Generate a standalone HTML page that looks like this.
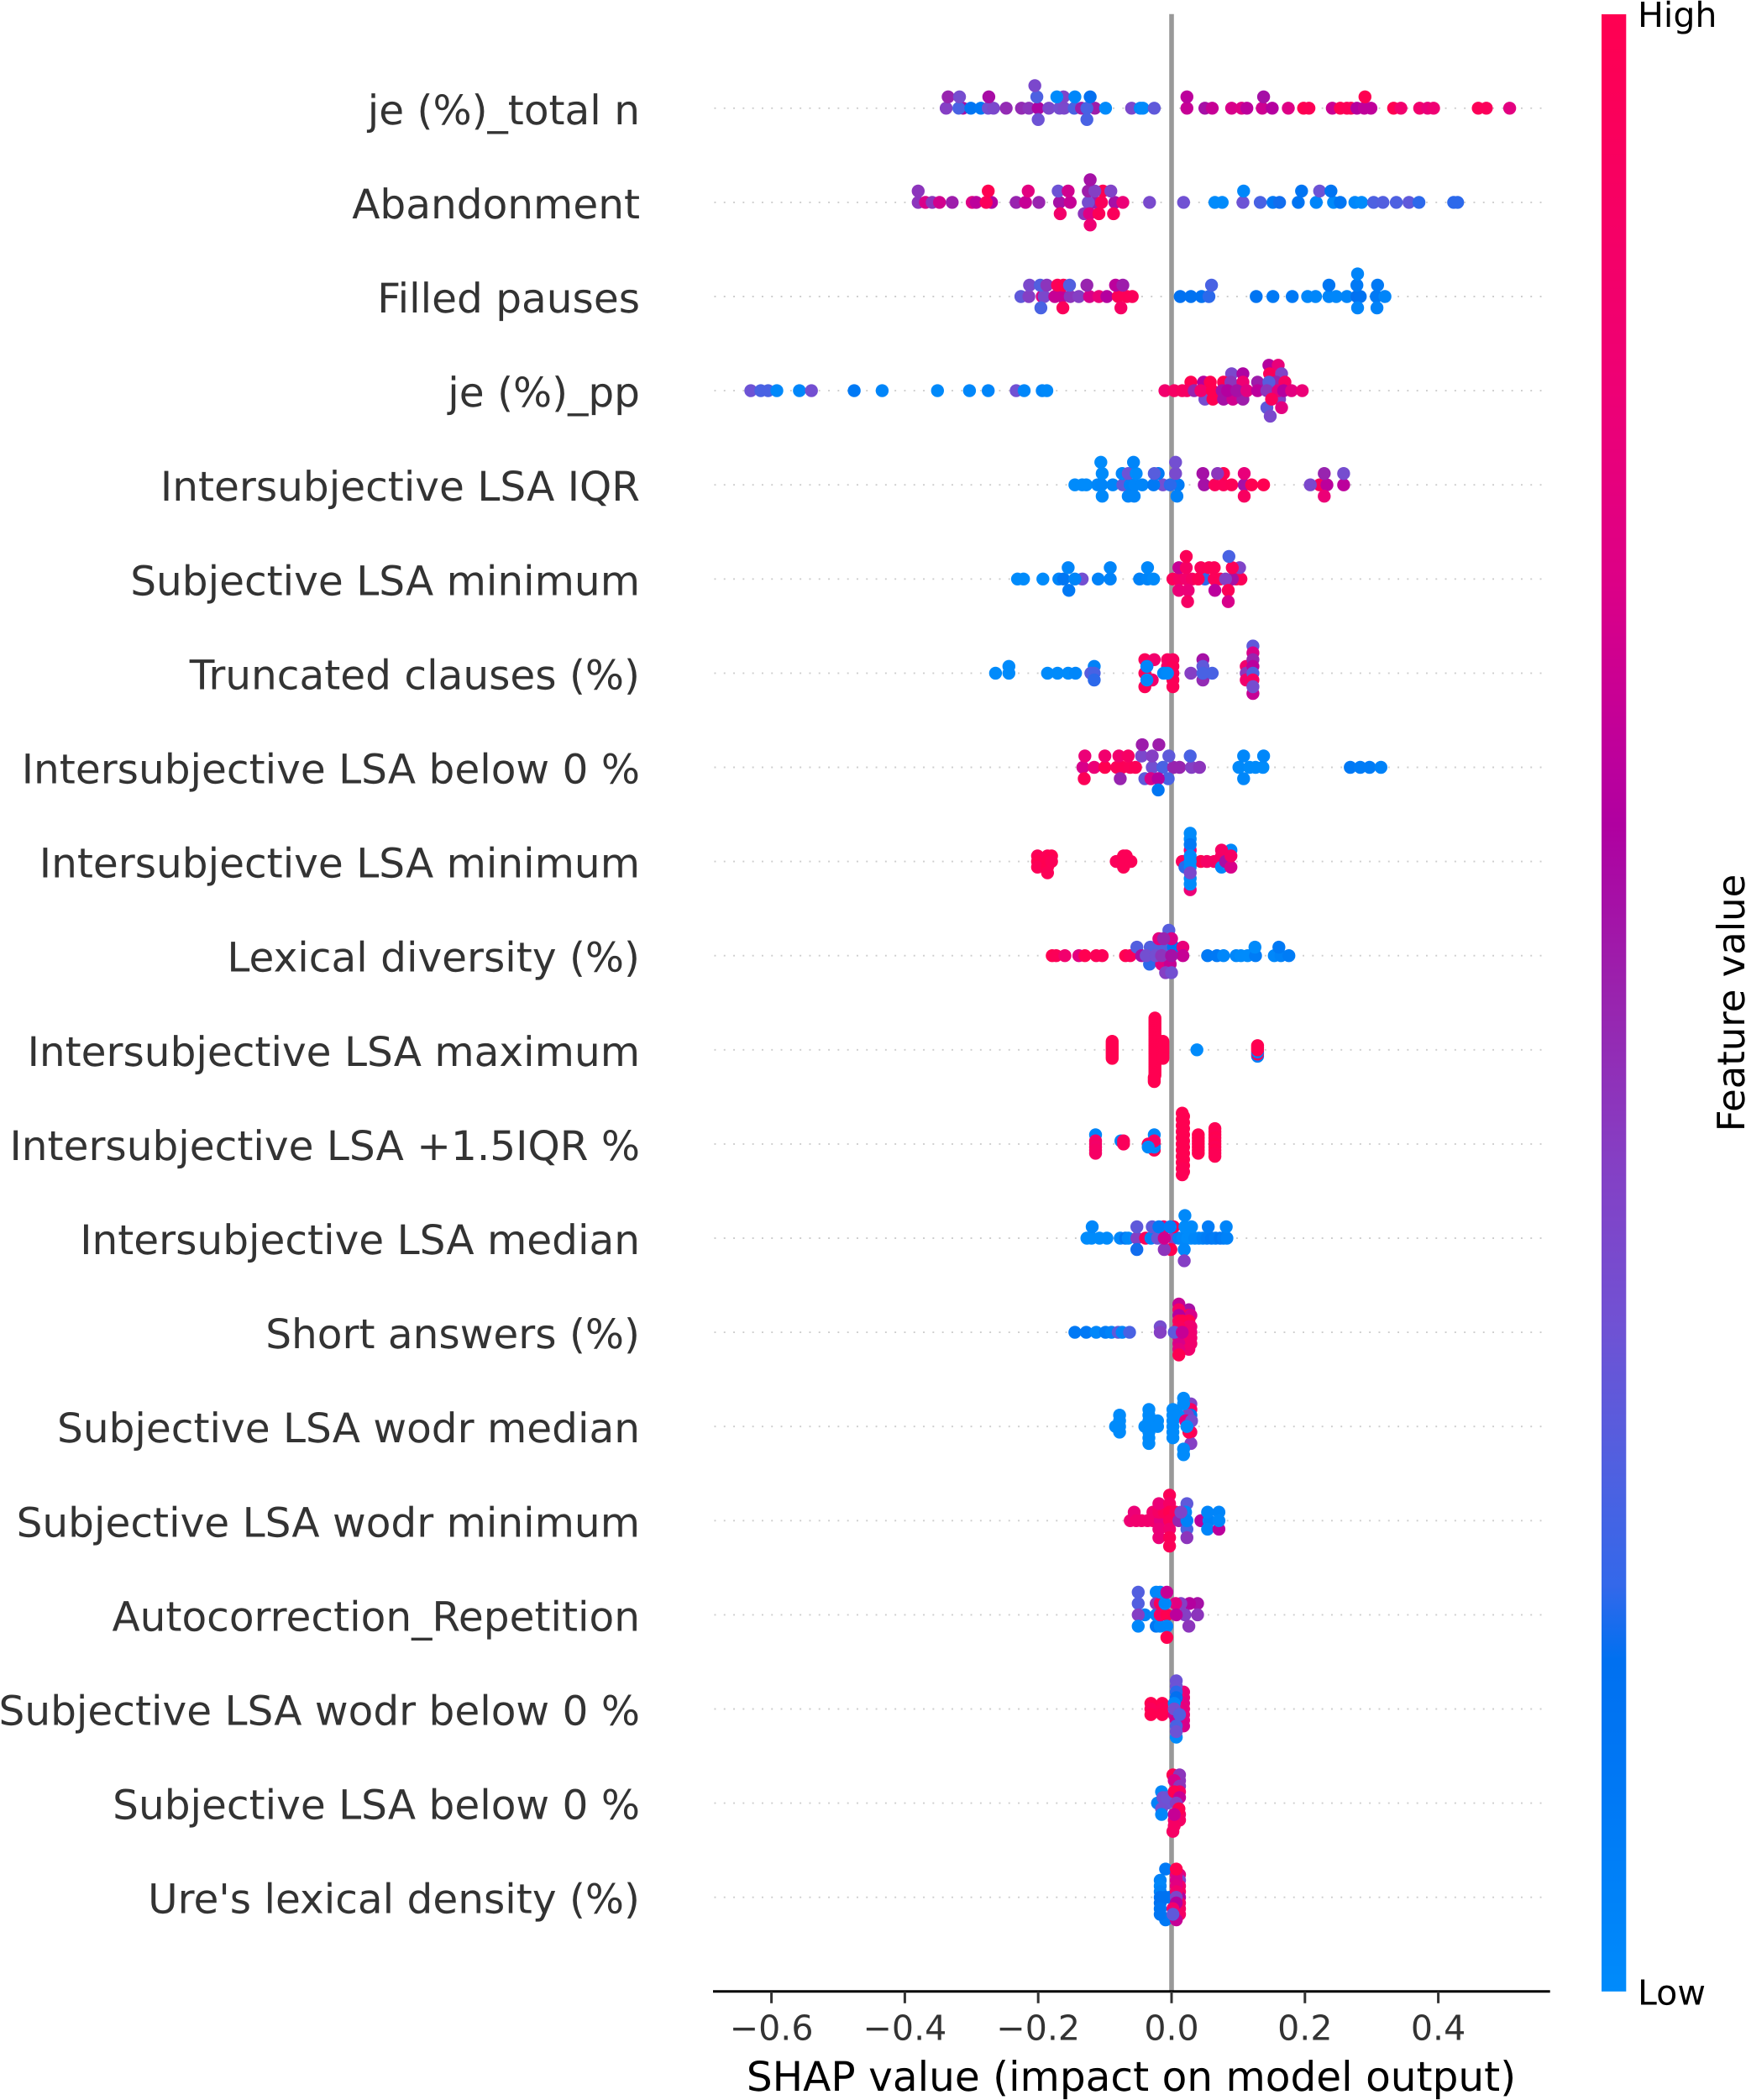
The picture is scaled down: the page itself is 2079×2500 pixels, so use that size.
<!DOCTYPE html>
<html lang="en">
<head>
<meta charset="utf-8">
<title>SHAP summary plot</title>
<style>
  html, body { margin: 0; padding: 0; background: #ffffff; }
  svg { display: block; }
  text { font-family: "DejaVu Sans", "Liberation Sans", sans-serif; text-rendering: geometricPrecision; }
</style>
</head>
<body>
<svg id="chart" xmlns="http://www.w3.org/2000/svg" width="2079" height="2500" viewBox="0 0 2079 2500">
  <defs>
    <linearGradient id="colorbar-gradient" x1="0" y1="1" x2="0" y2="0"></linearGradient>
  </defs>
  <rect x="0" y="0" width="2079" height="2500" fill="#ffffff"></rect>
  <g id="row-guides"></g>
  <line id="zero-line" stroke="#999999" stroke-width="5.6"></line>
  <g id="feature-labels"></g>
  <g id="points"></g>
  <line id="x-axis-line" stroke="#000000" stroke-width="3"></line>
  <g id="x-ticks"></g>
  <text x="1347" y="2489" font-size="48.55" fill="#000000" text-anchor="middle">SHAP value (impact on model output)</text>
  <rect x="1907" y="17" width="29.3" height="2353.8" fill="url(#colorbar-gradient)"></rect>
  <text x="1950" y="32" font-size="41.1" fill="#000000">High</text>
  <text x="1950" y="2386.5" font-size="41.1" fill="#000000">Low</text>
  <text x="0" y="0" font-size="44.9" fill="#000000" text-anchor="middle" transform="translate(2077 1194) rotate(-90)">Feature value</text>
</svg>
<script>
// Feature names, top row first
const featureNames = ["je (%)_total n","Abandonment","Filled pauses","je (%)_pp","Intersubjective LSA IQR","Subjective LSA minimum","Truncated clauses (%)","Intersubjective LSA below 0 %","Intersubjective LSA minimum","Lexical diversity (%)","Intersubjective LSA maximum","Intersubjective LSA +1.5IQR %","Intersubjective LSA median","Short answers (%)","Subjective LSA wodr median","Subjective LSA wodr minimum","Autocorrection_Repetition","Subjective LSA wodr below 0 %","Subjective LSA below 0 %","Ure's lexical density (%)"];
const xTickValues = [-0.6,-0.4,-0.2,0,0.2,0.4];
const xTickLabels = ["\u22120.6","\u22120.4","\u22120.2","0.0","0.2","0.4"];
// colormap: feature value, colour
const colorStops = [[0,"#008bfb"],[0.096,"#0079f5"],[0.168,"#0070f0"],[0.205,"#3368ea"],[0.265,"#5060e0"],[0.34,"#7151d3"],[0.42,"#853fc4"],[0.507,"#9a22ad"],[0.59,"#b000a0"],[0.617,"#bb009d"],[0.715,"#dd0086"],[0.81,"#ee0075"],[1,"#ff0051"]];

// Each point: [SHAP value, beeswarm layer, normalised feature value]
const jeTotalN = [[-.338,0,.42],[-.313,0,.55],[-.319,0,.25],[-.301,0,.12],[-.286,0,.1],[-.275,0,.35],[-.267,0,.38],[-.248,0,.48],[-.225,0,.48],[-.214,0,.45],[-.2,0,.58],[-.184,0,.38],[-.168,0,.36],[-.161,0,.38],[-.146,0,.25],[-.135,0,.52],[-.115,0,.52],[-.127,0,.25],[-.099,0,0],[-.06,0,.38],[-.047,0,.02],[-.043,0,0],[-.026,0,.3],[.023,0,.65],[.05,0,.55],[.061,0,.65],[.09,0,.7],[.105,0,.72],[.113,0,.62],[.136,0,.67],[.151,0,.6],[.175,0,.72],[.198,0,1],[.206,0,.98],[.241,0,.66],[.253,0,1],[.263,0,.97],[.269,0,.97],[.278,0,.6],[.289,0,.63],[.299,0,.63],[.333,0,1],[.344,0,.85],[.372,0,.85],[.384,0,.78],[.393,0,.82],[.46,0,.97],[.472,0,.95],[.507,0,.75],[-.335,1,.5],[-.318,1,.36],[-.274,1,.56],[-.202,1,.26],[-.162,1,.4],[-.172,1,0],[-.145,1,.02],[-.122,1,.17],[.023,1,.62],[.138,1,.55],[.29,1,1],[-.205,2,.38],[-.2,-1,.33],[-.127,-1,.25]];
const abandonment = [[-.38,0,.45],[-.369,0,.7],[-.359,0,.45],[-.348,0,.68],[-.329,0,.52],[-.299,0,.72],[-.293,0,.62],[-.27,0,.6],[-.278,0,.95],[-.233,0,.5],[-.219,0,.65],[-.199,0,.5],[-.168,0,.55],[-.152,0,.65],[-.115,0,.52],[-.105,0,.95],[-.125,0,.36],[-.085,0,.55],[-.073,0,.8],[-.033,0,.37],[.018,0,.34],[.065,0,0],[.076,0,0],[.107,0,.33],[.133,0,.25],[.152,0,.1],[.162,0,.18],[.19,0,.14],[.217,0,.03],[.243,0,.01],[.253,0,.12],[.275,0,.02],[.285,0,0],[.303,0,.26],[.317,0,.27],[.337,0,.26],[.356,0,.3],[.371,0,.2],[.423,0,.2],[.429,0,.2],[-.38,1,.45],[-.275,1,1],[-.215,1,.75],[-.17,1,.33],[-.155,1,.68],[-.103,1,1],[-.125,1,.52],[-.115,1,.42],[-.091,1,.4],[.108,1,.02],[.195,1,.14],[.222,1,.33],[.239,1,.14],[-.167,-1,.87],[-.131,-1,.45],[-.123,-1,.72],[-.109,-1,.97],[-.087,-1,.95],[-.122,2,.55],[-.122,-2,.82]];
const filledPauses = [[-.226,0,.3],[-.214,0,.42],[-.194,0,.72],[-.191,0,.38],[-.175,0,.65],[-.164,0,.65],[-.152,0,.45],[-.139,0,.42],[-.123,0,.7],[-.109,0,.8],[-.097,0,.6],[-.08,0,.97],[-.067,0,.97],[-.059,0,.95],[.013,0,.16],[.029,0,.15],[.045,0,.15],[.056,0,.2],[.127,0,.14],[.152,0,.1],[.181,0,.1],[.204,0,.02],[.216,0,.02],[.236,0,.03],[.247,0,.02],[.263,0,.03],[.278,0,.17],[.283,0,.15],[.307,0,.1],[.32,0,.03],[-.213,1,.38],[-.197,1,.27],[-.187,1,.45],[-.171,1,.97],[-.162,1,1],[-.153,1,.27],[-.127,1,.5],[-.084,1,.62],[-.073,1,.52],[.06,1,.25],[.236,1,.12],[.278,1,.1],[.309,1,.1],[-.196,-1,.25],[-.163,-1,.95],[-.076,-1,.9],[.279,-1,.03],[.308,-1,.05],[.279,2,.03]];
const jePp = [[-.631,0,.33],[-.616,0,.25],[-.605,0,.25],[-.592,0,.01],[-.558,0,.02],[-.54,0,.35],[-.476,0,.1],[-.434,0,.03],[-.351,0,.01],[-.303,0,.02],[-.275,0,.03],[-.233,0,.34],[-.221,0,.02],[-.194,0,.03],[-.187,0,.01],[.05,-1,.36],[.062,-1,1],[.078,-1,.55],[.092,-1,.68],[.107,-1,.52],[.162,-1,.42],[.143,-2,.3],[.165,-2,.75],[.148,-3,.38],[.146,3,.6],[.16,3,.78],[.09,2,.38],[.107,2,.58],[.147,2,.95],[.165,2,.4],[.029,1,1],[.048,1,.6],[.058,1,1],[.078,1,1],[.089,1,.45],[.107,1,.82],[.129,1,.52],[.157,1,.5],[.17,1,.9],[.146,1,.28],[-.01,0,.85],[.004,0,.9],[.016,0,.92],[.023,0,.9],[.034,0,.5],[.044,0,.85],[.061,0,1],[.076,0,.55],[.084,0,.6],[.098,0,.55],[.113,0,.75],[.129,0,.62],[.143,0,.45],[.16,0,.75],[.168,0,.6],[.18,0,.75],[.196,0,.8],[.15,-1,.95]];
const interLsaIqr = [[-.145,0,0],[-.134,0,0],[-.128,0,0],[-.111,0,.02],[-.105,0,.03],[-.088,0,.03],[-.073,0,.3],[-.062,0,.05],[-.055,0,.03],[-.044,0,.03],[-.013,0,.35],[-.027,0,.1],[.01,0,.08],[-.002,0,.2],[.049,0,.55],[.065,0,.95],[.078,0,.95],[.09,0,.97],[.109,0,.55],[.12,0,1],[.138,0,1],[.222,0,.95],[.233,0,.62],[.208,0,.38],[.258,0,.62],[-.104,1,0],[-.074,1,.02],[-.065,1,.33],[-.053,1,0],[-.02,1,.1],[-.026,1,.28],[.006,1,.37],[.047,1,.55],[.078,1,1],[.069,1,.45],[.109,1,.78],[.229,1,.5],[.258,1,.36],[-.106,2,0],[-.057,2,.03],[.006,2,.35],[-.104,-1,.01],[-.065,-1,.03],[-.056,-1,.03],[.008,-1,.05],[.109,-1,.92],[.229,-1,.8]];
const subjLsaMinimum = [[-.231,0,0],[-.222,0,0],[-.193,0,0],[-.134,0,.35],[-.169,0,.03],[-.162,0,.12],[-.145,0,.03],[-.11,0,.05],[-.092,0,.05],[-.048,0,.05],[-.036,0,.03],[-.027,0,.01],[.002,0,.95],[.012,0,.9],[.022,0,.85],[.031,0,.9],[.05,0,.2],[.04,0,.97],[.064,0,.95],[.073,0,.97],[.097,0,.97],[.104,0,.97],[.091,0,.55],[.081,0,.42],[-.155,1,.03],[-.092,1,.03],[-.036,1,.02],[.011,1,.65],[.022,1,.9],[.044,1,.95],[.056,1,.97],[.064,1,.97],[.102,1,.4],[.091,1,.97],[-.154,-1,.1],[.011,-1,.8],[.025,-1,.8],[.065,-1,.62],[.085,-1,.97],[.022,2,.97],[.086,2,.25],[.024,-2,.9],[.085,-2,.7]];
const truncatedClauses = [[-.264,0,0],[-.244,0,0],[-.244,1,0],[-.186,0,0],[-.171,0,0],[-.155,0,0],[-.144,0,.02],[-.116,1,.05],[-.121,0,.28],[-.116,0,.25],[-.116,-1,.2],[-.04,2,.95],[-.026,2,.85],[-.037,1,.97],[-.04,0,.97],[-.029,-1,.85],[-.04,-2,.97],[-.037,-1,.02],[-.037,1,.03],[-.006,2,.92],[.002,2,.92],[-.006,1,.9],[.002,1,.97],[.002,0,.95],[.002,-1,.97],[.002,-2,.97],[-.012,0,.03],[-.006,0,.01],[.029,0,.42],[.047,2,.55],[.047,1,.3],[.047,-1,.48],[.047,0,.25],[.061,0,.25],[.112,1,.85],[.112,0,.45],[.112,-1,.85],[.122,4,.3],[.122,3,.7],[.122,2,.5],[.122,1,.62],[.122,0,.27],[.122,-1,.9],[.122,-3,.65],[.122,-2,.36]];
const interLsaBelow0 = [[-.133,0,.7],[-.116,0,.8],[-.1,0,1],[-.082,0,.95],[-.074,0,.97],[-.062,0,.95],[-.054,0,.97],[-.029,0,.35],[-.013,0,.25],[.003,0,.5],[.012,0,.5],[.03,0,.42],[.042,0,.45],[.101,0,.01],[.117,0,0],[.126,0,0],[.137,0,0],[.268,0,.1],[.283,0,.08],[.297,0,.08],[.314,0,.05],[-.13,1,.8],[-.1,1,.85],[-.079,1,.85],[-.065,1,.9],[-.045,1,.38],[-.029,1,.42],[-.004,1,.3],[.028,1,.25],[.108,1,.02],[.138,1,.02],[-.044,2,.52],[-.019,2,.52],[-.131,-1,.97],[-.077,-1,.5],[-.04,-1,.3],[-.005,-1,.25],[-.031,-1,.7],[-.02,-1,.6],[.108,-1,.02],[-.02,-2,.12]];
const interLsaMinimum = [[-.201,1,.97],[-.201,0,1],[-.201,-1,.97],[-.186,1,.97],[-.186,0,1],[-.186,-1,1],[-.186,-2,.97],[-.18,1,1],[-.18,0,.97],[-.083,0,.95],[-.072,1,.97],[-.072,0,.97],[-.072,-1,.97],[-.068,1,.97],[-.061,0,.97],[.016,0,.95],[.028,2,.8],[.02,-1,.2],[.044,0,1],[.053,0,.9],[.064,0,.9],[.075,0,.9],[.089,2,.02],[.075,1,.9],[.075,2,.9],[.081,1,.9],[.075,-1,.02],[.081,0,.55],[.089,-1,.7],[.089,1,.9],[.028,-5,.8],[.028,5,0],[.028,4,0],[.028,3,.1],[.028,1,.01],[.028,0,0],[.028,-1,0],[.028,-3,0],[.028,-4,0],[.028,-2,.38]];
const lexicalDiversity = [[-.179,0,1],[-.173,0,.97],[-.16,0,.85],[-.139,0,.75],[-.13,0,1],[-.113,0,.97],[-.104,0,.97],[-.069,0,1],[-.062,0,.95],[.054,0,.1],[.068,0,.1],[.078,0,.02],[.097,0,.02],[.104,0,0],[.114,0,0],[.126,0,.08],[.154,0,.02],[.164,0,.05],[.176,0,.08],[.125,1,0],[.161,1,.1],[-.052,1,.27],[-.032,1,.27],[-.014,1,.27],[.003,1,.15],[-.004,3,.28],[-.019,2,.75],[0,2,.7],[-.012,2,.5],[.017,1,.78],[-.033,-1,.2],[-.015,-1,.75],[-.002,-1,.65],[-.009,-2,.42],[0,-2,.35],[-.045,0,.55],[-.038,0,.35],[-.024,0,.35],[-.015,0,.45],[.017,0,.65],[0,0,.55]];
const interLsaMaximum = [[-.025,15,1],[-.025,14,1],[-.025,13,1],[-.025,12,1],[-.025,11,1],[-.025,10,1],[-.025,9,1],[-.025,8,1],[-.025,7,1],[-.025,6,1],[-.025,5,1],[-.025,4,1],[-.025,3,1],[-.025,2,1],[-.025,1,1],[-.025,0,1],[-.025,-1,1],[-.025,-2,1],[-.025,-3,1],[-.025,-4,1],[-.025,-5,1],[-.025,-6,1],[-.025,-7,1],[-.025,-8,1],[-.025,-9,1],[-.025,-10,1],[-.025,-11,1],[-.025,-12,1],[-.026,-13,1],[-.026,-14,1],[-.026,-15,1],[-.089,4,1],[-.089,3,1],[-.089,2,1],[-.089,1,1],[-.089,0,1],[-.089,-1,1],[-.089,-2,1],[-.089,-3,1],[-.089,-4,1],[-.013,4,1],[-.013,3,1],[-.013,2,1],[-.013,1,1],[-.013,0,1],[-.013,-1,1],[-.013,-2,1],[-.013,-3,1],[-.013,-4,1],[.038,0,0],[.129,-3,.05],[.129,-2,.95],[.129,-1,.05],[.129,0,1],[.129,1,1],[.129,2,1]];
const interLsaPlusIqr = [[.016,10,1],[.018,9,1],[.016,8,1],[.018,7,1],[.016,6,1],[.018,5,1],[.016,4,1],[.018,3,1],[.016,2,1],[.018,1,1],[.016,0,1],[.018,-1,1],[.016,-2,1],[.018,-3,1],[.016,-4,1],[.018,-5,1],[.016,-6,1],[.018,-7,1],[.016,-8,.98],[.018,-9,.98],[.016,-10,.98],[.04,3,1],[.04,2,1],[.04,1,1],[.04,0,1],[.04,-1,1],[.04,-2,1],[.04,-3,1],[.065,5,.98],[.065,4,1],[.065,3,.98],[.065,2,1],[.065,1,.98],[.065,0,1],[.065,-1,.98],[.065,-2,1],[.065,-3,.98],[.065,-4,.98],[-.114,3,.03],[-.114,1,.88],[-.114,0,.9],[-.114,-1,.88],[-.114,-2,.9],[-.114,-3,.9],[-.076,1,.03],[-.072,1,.93],[-.072,0,.95],[-.026,3,.03],[-.026,-2,1],[-.035,0,.97],[-.026,0,1],[-.026,-1,.02],[-.026,1,.9],[-.035,-1,.01]];
const interLsaMedian = [[-.127,0,0],[-.12,0,0],[-.108,0,0],[-.097,0,0],[-.077,0,.02],[-.069,0,.12],[-.065,0,.01],[-.052,0,.42],[-.039,0,.95],[-.031,0,.05],[-.021,0,.33],[.003,0,.42],[.011,0,.05],[.017,0,.02],[.024,0,0],[.029,0,0],[.035,0,.02],[.041,0,.02],[.047,0,.05],[.053,0,.08],[.06,0,.1],[.066,0,.08],[.073,0,.12],[.078,0,.08],[.083,0,.05],[-.119,1,.02],[-.052,1,.3],[-.029,1,.3],[.003,1,.98],[-.012,1,.9],[-.019,1,.1],[-.002,1,.08],[.02,1,0],[.03,1,0],[.055,1,.08],[.082,1,.03],[.02,2,.01],[-.052,-1,.18],[-.001,-1,1],[-.011,-1,.45],[.019,-1,.02],[.019,-2,.42],[-.011,0,.68]];
const shortAnswers = [[-.145,0,.1],[-.128,0,.1],[-.113,0,.02],[-.099,0,.08],[-.09,0,.05],[-.08,0,.3],[-.074,0,.03],[-.063,0,.25],[-.017,1,.36],[-.017,0,.42],[.011,5,.65],[.026,4,.55],[.011,4,.9],[.026,3,1],[.029,3,.7],[.011,3,.6],[.026,2,1],[.011,2,.95],[.016,2,1],[.029,1,.8],[.026,1,.85],[.011,1,.95],[.029,0,.8],[.026,0,.85],[.029,-1,.85],[.026,-1,.85],[.011,-1,.8],[.029,-2,.85],[.026,-2,.85],[.011,-2,.7],[.026,-3,.85],[.011,-3,.75],[.004,0,.3],[.016,0,.65],[.011,-4,1]];
const subjLsaWodrMedian = [[-.084,0,0],[-.078,2,0],[-.078,1,0],[-.078,0,0],[-.078,-1,0],[-.04,0,0],[-.034,3,0],[-.034,2,0],[-.034,1,0],[-.034,0,0],[-.034,-1,0],[-.034,-2,0],[-.034,-3,0],[-.021,1,0],[-.021,0,0],[.029,4,.4],[.029,3,.9],[.029,2,.12],[.029,-1,.9],[.029,-3,.42],[.029,1,.36],[.024,2,.4],[.002,3,0],[.002,2,0],[.002,1,0],[.002,0,0],[.002,-1,0],[.002,-2,0],[.01,2,0],[.018,5,0],[.018,4,0],[.018,-4,0],[.018,-5,0],[.021,1,.75],[.03,1,.36],[.026,-1,1],[.023,0,0]];
const subjLsaWodrMinimum = [[-.062,0,.82],[-.056,1,.8],[-.053,0,.85],[-.045,0,.85],[-.036,0,.85],[-.028,0,.85],[-.017,0,.75],[-.028,1,.85],[-.019,1,.9],[-.011,1,.95],[.006,1,.97],[-.019,2,.8],[-.019,-1,.8],[-.019,-2,.8],[-.003,3,.97],[-.003,2,.9],[-.003,1,1],[-.003,0,.95],[-.003,-1,.85],[-.003,-2,.97],[-.003,-3,.97],[.006,1,.95],[.011,0,.5],[.023,2,.3],[.023,-1,.25],[.023,-2,.45],[.021,1,.02],[.023,0,.05],[.014,1,.4],[.044,0,.62],[.056,0,.05],[.054,1,.03],[.054,-1,.03],[.071,-1,.62],[.071,1,.03],[.071,0,.02]];
const autocorrection = [[-.05,2,.27],[-.05,1,.27],[-.04,0,.05],[-.05,0,.42],[-.05,-1,.02],[-.023,2,.02],[-.023,-1,.12],[-.023,0,.02],[-.017,-1,.03],[-.023,1,.45],[-.017,1,.95],[.039,1,.55],[.027,1,.6],[.039,0,.45],[.02,0,.42],[.014,1,.42],[.006,1,.75],[.026,-1,.45],[-.017,0,.9],[-.007,0,1],[.007,0,.62],[-.01,1,.02],[-.007,-1,.03],[-.017,2,.02],[-.007,2,.65],[-.007,-2,1]];
const subjLsaWodrBelow0 = [[-.031,1,1],[-.031,0,.95],[-.031,-1,1],[-.014,1,1],[-.014,0,.97],[-.014,-1,1],[.007,-5,0],[.018,3,.8],[.018,2,.8],[.018,1,.75],[.018,0,.8],[.018,-1,.8],[.018,-2,.75],[.018,-3,.7],[.007,5,.33],[.007,4,.33],[.007,3,.2],[.014,0,.75],[.007,2,.17],[.004,1,.02],[.004,-1,.7],[.007,-2,.65],[.007,-3,.25],[.004,0,.35],[.012,-1,.27],[.007,-4,.33]];
const subjLsaBelow0 = [[-.015,2,.02],[-.021,0,.05],[-.007,0,.33],[-.013,1,.35],[-.015,-1,.35],[-.007,1,.33],[-.015,-2,.02],[.002,5,1],[.012,5,.45],[.012,4,.45],[.004,4,.7],[.012,3,.45],[.012,2,.9],[.004,2,1],[.012,1,.65],[.011,-1,.9],[.012,-3,.9],[.012,-2,.9],[.004,-3,.85],[.002,-5,.9],[.004,-4,.9],[.007,0,.42],[.011,-1,1],[.004,-2,.65]];
const uresLexicalDensity = [[-.009,-4,.1],[-.009,5,.1],[-.017,3,.05],[-.017,2,.02],[-.017,1,.05],[-.017,0,.15],[-.017,-1,.15],[-.017,-2,.12],[-.017,-3,.12],[.012,4,.75],[.012,3,.4],[.012,2,.85],[.012,1,.9],[.012,0,.6],[.012,-1,.9],[.012,-2,.9],[.012,-3,.9],[-.003,0,.1],[-.009,0,.15],[.007,4,.75],[.007,3,.7],[.007,2,.75],[.007,1,.85],[.007,0,.4],[.007,-1,.6],[.002,-2,.85],[.007,-4,.65],[.007,5,1],[.002,-3,.3]];
const rowSeries = [jeTotalN, abandonment, filledPauses, jePp, interLsaIqr, subjLsaMinimum, truncatedClauses, interLsaBelow0, interLsaMinimum, lexicalDiversity, interLsaMaximum, interLsaPlusIqr, interLsaMedian, shortAnswers, subjLsaWodrMedian, subjLsaWodrMinimum, autocorrection, subjLsaWodrBelow0, subjLsaBelow0, uresLexicalDensity];

const NS = "http://www.w3.org/2000/svg";
const xZero = 1395, xPerUnit = 794;
const axisLeft = 849, axisRight = 1845.7, axisBottom = 2370.8, rowPitch = 112.1;
function xScale(v) { return xZero + xPerUnit * v; }
function yScale(pos) { return axisBottom - (pos + 1) * rowPitch; }
function hexToRgb(h) { return [parseInt(h.slice(1,3),16), parseInt(h.slice(3,5),16), parseInt(h.slice(5,7),16)]; }
function colorFor(t) {
  t = Math.max(0, Math.min(1, t));
  for (let i = 1; i < colorStops.length; i++) {
    if (t <= colorStops[i][0]) {
      const a = colorStops[i-1], b = colorStops[i];
      const f = (t - a[0]) / (b[0] - a[0]);
      const ca = hexToRgb(a[1]), cb = hexToRgb(b[1]);
      return "rgb(" + ca.map((c, k) => Math.round(c + (cb[k] - c) * f)).join(",") + ")";
    }
  }
  return colorStops[colorStops.length - 1][1];
}
function make(tag, attrs, parent) {
  const el = document.createElementNS(NS, tag);
  for (const k in attrs) el.setAttribute(k, attrs[k]);
  parent.appendChild(el);
  return el;
}

const zeroLine = document.getElementById("zero-line");
zeroLine.setAttribute("x1", xScale(0));
zeroLine.setAttribute("x2", xScale(0));
zeroLine.setAttribute("y1", yScale(featureNames.length));
zeroLine.setAttribute("y2", axisBottom);

const axisLine = document.getElementById("x-axis-line");
axisLine.setAttribute("x1", axisLeft);
axisLine.setAttribute("x2", axisRight);
axisLine.setAttribute("y1", axisBottom);
axisLine.setAttribute("y2", axisBottom);

const grad = document.getElementById("colorbar-gradient");
colorStops.forEach(function (s) {
  make("stop", { offset: s[0], "stop-color": s[1] }, grad);
});

const guides = document.getElementById("row-guides");
const labelsG = document.getElementById("feature-labels");
const pointsG = document.getElementById("points");
const nRows = featureNames.length;

featureNames.forEach(function (name, i) {
  const pos = nRows - 1 - i;
  const y = yScale(pos);
  const guide = make("line", { x1: 850.5, x2: 1838, y1: y, y2: y, stroke: "#cccccc", "stroke-width": 1.9, "stroke-dasharray": "1.9 9.4" }, guides);
  
  
  const label = make("text", { x: 762, y: y + 19, "font-size": 48.55, fill: "#333333", "text-anchor": "end" }, labelsG);
  label.textContent = name;
  
  

  const series = rowSeries[i];
  const maxLayer = series.reduce(function (m, p) { return Math.max(m, p[1]); }, 0);
  const layerUnit = 0.36 / (maxLayer + 1);
  const group = make("g", {}, pointsG);
  
  
  series.forEach(function (p) {
    const dot = make("circle", { cx: xScale(p[0]).toFixed(1), cy: yScale(pos + p[1] * layerUnit).toFixed(1), r: 7.7, fill: colorFor(p[2]) }, group);
    
    
  });
});

const ticksG = document.getElementById("x-ticks");
xTickValues.forEach(function (v, i) {
  const x = xScale(v);
  const tick = make("line", { x1: x, x2: x, y1: axisBottom, y2: axisBottom + 14, stroke: "#333333", "stroke-width": 3 }, ticksG);
  
  
  const label = make("text", { x: x, y: 2428.3, "font-size": 41.1, fill: "#333333", "text-anchor": "middle" }, ticksG);
  label.textContent = xTickLabels[i];
  
  
});
</script>
</body>
</html>
